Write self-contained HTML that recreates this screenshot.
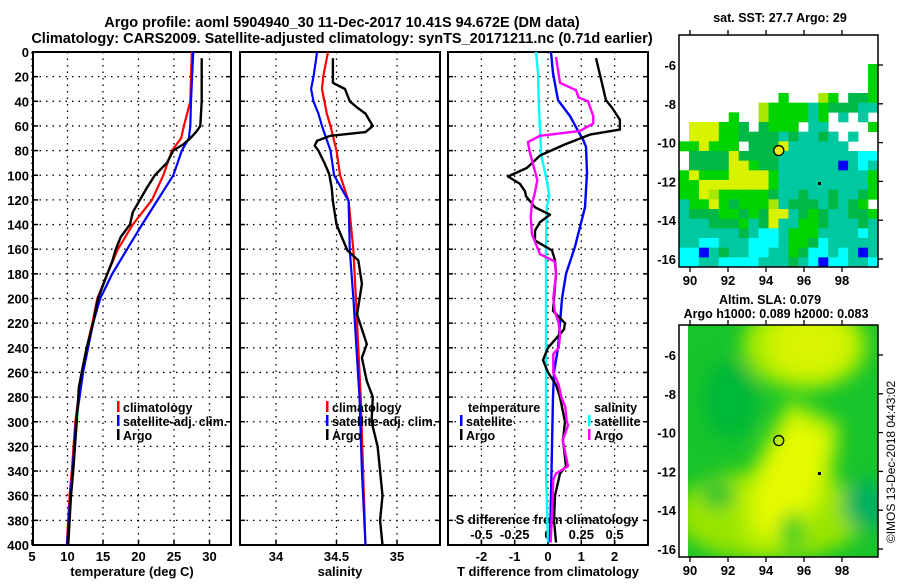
<!DOCTYPE html>
<html><head><meta charset="utf-8"><style>
body{margin:0;background:#fff}
svg text{font-family:"Liberation Sans",Arial,sans-serif;font-weight:bold;fill:#000}
</style></head><body>
<svg id="c" width="900" height="580" viewBox="0 0 900 580" xmlns="http://www.w3.org/2000/svg">
<defs><filter id="bl" x="-50%" y="-50%" width="200%" height="200%"><feGaussianBlur stdDeviation="9"/></filter>
<clipPath id="cm2"><rect x="688" y="325" width="190" height="232"/></clipPath></defs>
</svg>
<script>
// ---------- data ----------
const depthTicks=[0,20,40,60,80,100,120,140,160,180,200,220,240,260,280,300,320,340,360,380,400];
const tTicks=[5,10,15,20,25,30];
const sTicks=[34,34.5,35];
const sTickLabels=["34","34.5","35"];
const dTTicks=[-2,-1,0,1,2];
const dSTicks=[-0.5,-0.25,0,0.25,0.5];
const dSTickLabels=["-0.5","-0.25","0","0.25","0.5"];
// temperature panel
const argoTDepth=[5,20,40,60,65,70,75,80,90,100,110,120,130,140,150,160,170,180,200,220,240,260,272,300,340,360,400];
const argoT=[28.9,28.9,28.9,28.7,28.1,27.3,26.3,24.9,24.0,22.3,21.2,20.2,19.2,18.8,17.5,16.8,16.3,15.6,14.3,13.6,12.7,12.0,11.6,11.3,10.8,10.5,10.1];
const climTDepth=[0,40,60,70,80,100,120,140,160,180,200,220,240,260,300,340,360,400];
const climT=[27.5,27.3,26.4,26.0,24.7,23.5,21.9,19.2,17.1,15.6,14.2,13.5,12.7,12.0,11.1,10.6,10.3,9.9];
const satT=[27.7,27.4,27.3,27.1,26.1,24.9,22.7,20.5,18.4,16.3,14.6,13.6,12.9,12.2,11.2,10.7,10.4,9.95];
// salinity panel
const argoSDepth=[5,25,30,40,45,50,60,65,68,72,76,80,90,99,110,121,140,161,169,188,213,237,248,267,280,300,320,340,360,380,400];
const argoS=[34.47,34.47,34.57,34.61,34.67,34.74,34.80,34.74,34.45,34.34,34.32,34.35,34.40,34.44,34.46,34.47,34.50,34.59,34.68,34.71,34.67,34.75,34.71,34.75,34.80,34.79,34.84,34.86,34.88,34.86,34.88];
const climSDepth=[0,20,30,40,50,60,80,100,121,161,200,280,340,400];
const climS=[34.43,34.39,34.38,34.40,34.42,34.45,34.50,34.53,34.60,34.64,34.66,34.70,34.72,34.74];
const satS=[34.34,34.31,34.29,34.31,34.35,34.38,34.45,34.48,34.60,34.61,34.64,34.69,34.71,34.74];
// difference panel
const argoDTDepth=[5,25,39,45,55,63,67,75,84,94,101,107,113,117,126,132,138,145,153,161,169,180,190,200,210,220,225,240,250,260,270,280,300,315,336,342,360,380,398];
const argoDT=[1.44,1.62,1.74,1.92,2.16,2.16,1.26,0.51,-0.24,-0.63,-1.2,-0.84,-0.69,-0.66,-0.39,0.06,-0.24,-0.39,-0.39,0.12,0.21,0.24,0.21,0.18,0.15,0.51,0.48,0,-0.15,0,0.24,0.36,0.51,0.45,0.54,0.36,0.21,0.18,0.24];
const argoDSDepth=[4,25,31,37,40,52,58,64,68,73,80,96,104,115,123,134,148,164,170,180,200,210,220,230,240,245,260,270,280,288,299,303,315,336,342,347,374,398];
const argoDS=[0.06,0.09,0.21,0.23,0.30,0.34,0.34,0.24,-0.06,-0.15,-0.14,-0.10,-0.08,-0.10,-0.12,-0.13,-0.12,-0.06,0.05,0.06,0.04,0.05,0.08,0.09,0.08,0.04,0.04,0.08,0.10,0.13,0.14,0.15,0.11,0.15,0.06,0.04,0.03,0.02];
const satDTDepth=[0,17,39,52,64,71,77,98,126,142,158,180,200,220,240,260,280,320,360,398];
const satDT=[0.09,0.15,0.30,0.66,0.90,1.05,1.14,1.17,1.11,0.96,0.81,0.54,0.42,0.36,0.30,0.18,0.15,0.12,0.09,0.06];
const satDSDepth=[0,17,39,64,84,104,117,126,160,200,300,340,398];
const satDS=[-0.09,-0.075,-0.07,-0.06,-0.05,-0.01,0.01,-0.01,-0.015,-0.015,-0.015,-0.015,0];
// maps
const mapLons=[90,92,94,96,98];
const mapLats=[-6,-8,-10,-12,-14,-16];
const argoLon=94.672, argoLat=-10.41;
const sstRows=["....................","....................","....................","...................g","...................g","...................g","..........g...lg.ddg","........lggggtgdddtt",".....g..lggggtg.t.t.",".yyyggd.dggg.tt....g",".yyyggddddtdttdt.t..","ggyggg.dddytttttt...",".ddddyddddttttttttcc",".ddddyygddttttttbtct","gygggyyyygtttttttttg","ggyyyyyyygtttttttttg","ggylgggggdttdttdttdg","tggygdgggltdddtdtdg","tdddggdgdyytdgdttddg","tttdddgtdyttggdtttdt","ttttttdtcctgggttttct","ttcctttccctggdcttttt","ccbtdttccttgdcctctbt","ccttcccctttdtcbccttc"];
const sstColors={y:"#d8f200",l:"#a8e800",g:"#00d400",d:"#00b848",t:"#00c8a0",c:"#00ffff",b:"#0000ff"};

// ---------- helpers ----------
const svg=document.getElementById('c');
const NS="http://www.w3.org/2000/svg";
function el(tag,attrs,parent){const e=document.createElementNS(NS,tag);for(const k in attrs)e.setAttribute(k,attrs[k]);(parent||svg).appendChild(e);return e;}
function txt(x,y,s,size,anchor,parent){const t=el('text',{x:x,y:y,'font-size':size,'text-anchor':anchor||'middle'},parent);t.textContent=s;return t;}
const Y0=52,Y1=545;
function yD(d){return Y0+(d/400)*(Y1-Y0);}
function xT(v){return 32+(v-5)*7.1;}
function xS(v){return 276+(v-34)*121;}
function xDT(v){return 548+v*33.3;}
function xDS(v){return 548+v*133.2;}
function line(xs,ys,fx,color,w,name){
  let d='';for(let i=0;i<xs.length;i++){d+=(i?'L':'M')+fx(xs[i]).toFixed(1)+','+yD(ys[i]).toFixed(1);}
  const p=el('path',{d:d,fill:'none',stroke:color,'stroke-width':w,'stroke-linejoin':'round'});
  
  
  return p;
}
function panel(x0,x1,name,xGrid){
  const g=el('g',{});
  
  
  depthTicks.forEach(d=>{if(d>0&&d<400){el('line',{x1:x0,x2:x1,y1:yD(d),y2:yD(d),stroke:'#000','stroke-width':1.3,'stroke-dasharray':'1.5,5'},g);
    el('line',{x1:x0,x2:x0+5,y1:yD(d),y2:yD(d),stroke:'#000','stroke-width':1.5},g);el('line',{x1:x1-5,x2:x1,y1:yD(d),y2:yD(d),stroke:'#000','stroke-width':1.5},g);}});
  xGrid.forEach(x=>{el('line',{x1:x,x2:x,y1:Y0,y2:Y1,stroke:'#000','stroke-width':1.3,'stroke-dasharray':'1.5,5'},g);
    el('line',{x1:x,x2:x,y1:Y1-5,y2:Y1,stroke:'#000','stroke-width':1.5},g);});
  el('rect',{x:x0,y:Y0,width:x1-x0,height:Y1-Y0,fill:'none',stroke:'#000','stroke-width':2},g);
  return g;
}
// titles
let t=txt(342,27,"Argo profile: aoml 5904940_30 11-Dec-2017 10.41S 94.672E (DM data)",14.5);

t=txt(342,43,"Climatology: CARS2009. Satellite-adjusted climatology: synTS_20171211.nc (0.71d earlier)",14.5);


// panels
panel(33,231,'temperature-panel',tTicks.map(xT));
panel(240,440,'salinity-panel',sTicks.map(xS));
panel(448,648,'difference-panel',dTTicks.map(xDT));
depthTicks.forEach(d=>{const l=txt(29,yD(d)+5,String(d),13,'end');});
tTicks.forEach(v=>{const l=txt(xT(v),561,String(v),13);});
sTicks.forEach((v,i)=>{const l=txt(xS(v),561,sTickLabels[i],13);});
dTTicks.forEach(v=>{const l=txt(xDT(v),561,String(v),13);});
dSTicks.forEach((v,i)=>{const l=txt(xDS(v),539,dSTickLabels[i],13);
  el('line',{x1:xDS(v),x2:xDS(v),y1:Y1-5,y2:Y1,stroke:'#000','stroke-width':1.5});});
t=txt(547,524,"S difference from climatology",13);
t=txt(132,576,"temperature (deg C)",13);
t=txt(340,576,"salinity",13);
t=txt(548,576,"T difference from climatology",13);

// series
line(climT,climTDepth,xT,'#ff0000',2.2,'climatology-temperature-line');
line(satT,climTDepth,xT,'#0000ff',2.2,'satellite-temperature-line');
line(argoT,argoTDepth,xT,'#000',2.4,'argo-temperature-line');
line(climS,climSDepth,xS,'#ff0000',2.2,'climatology-salinity-line');
line(satS,climSDepth,xS,'#0000ff',2.2,'satellite-salinity-line');
line(argoS,argoSDepth,xS,'#000',2.4,'argo-salinity-line');
line(satDS,satDSDepth,xDS,'#00ffff',2.4,'satellite-s-diff-line');
line(satDT,satDTDepth,xDT,'#0000ff',2.4,'satellite-t-diff-line');
line(argoDT,argoDTDepth,xDT,'#000',2.4,'argo-t-diff-line');
line(argoDS,argoDSDepth,xDS,'#ff00ff',2.4,'argo-s-diff-line');

// legends
function legItem(x,y,color,label,name){
  const g=el('g',{});
  
  
  if(color) el('rect',{x:x,y:y-11,width:2.5,height:11,fill:color},g);
  txt(x+(color?6:0),y,label,12.5,'start',g);
}
legItem(117,412,'#ff0000','climatology','legend-climatology');
legItem(117,426,'#0000ff','satellite-adj. clim.','legend-satellite-adj');
legItem(117,440,'#000','Argo','legend-argo');
legItem(326,412,'#ff0000','climatology','legend-climatology-2');
legItem(326,426,'#0000ff','satellite-adj. clim.','legend-satellite-adj-2');
legItem(326,440,'#000','Argo','legend-argo-2');
legItem(468,412,null,'temperature','legend-temperature-header');
legItem(460,426,'#0000ff','satellite','legend-t-satellite');
legItem(460,440,'#000','Argo','legend-t-argo');
legItem(594,412,null,'salinity','legend-salinity-header');
legItem(588,426,'#00ffff','satellite','legend-s-satellite');
legItem(588,440,'#ff00ff','Argo','legend-s-argo');

// ---------- maps ----------
function lonX(l){return 690+(l-90)*19;}
function latY(top,l){return top+(-6-l)*19.4;}
function mapAxes(top,bottom,name){
  const g=el('g',{});
  
  
  const ytop=top-30;
  el('rect',{x:679,y:ytop,width:199,height:bottom-ytop,fill:'none',stroke:'#000','stroke-width':1.5},g);
  mapLons.forEach(l=>{const x=lonX(l);el('line',{x1:x,x2:x,y1:bottom,y2:bottom+5,stroke:'#000','stroke-width':1.3},g);el('line',{x1:x,x2:x,y1:ytop-5,y2:ytop,stroke:'#000','stroke-width':1.3},g);txt(x,bottom+18,String(l),13,'middle',g);});
  mapLats.forEach(l=>{const y=latY(top,l);el('line',{x1:878,x2:883,y1:y,y2:y,stroke:'#000','stroke-width':1.3},g);txt(676,y+5,String(l),13,'end',g);});
}
const gSST=el('g',{});


const cw=199/20, ch=232/24;
sstRows.forEach((row,r)=>{for(let c=0;c<row.length;c++){const k=row[c];if(sstColors[k]){
  const rc=el('rect',{x:(679+c*cw).toFixed(2),y:(35+r*ch).toFixed(2),width:(cw+0.3).toFixed(2),height:(ch+0.3).toFixed(2),fill:sstColors[k]},gSST);
  
  }}});
mapAxes(65,267,'sst-map-axes');
let ci=el('circle',{cx:lonX(argoLon),cy:latY(65,argoLat),r:5,fill:'#e8f000',stroke:'#000','stroke-width':1.3});

el('rect',{x:818,y:182,width:3,height:3,fill:'#000'});
t=txt(780,22,"sat. SST: 27.7 Argo: 29",12.5);

const gS=el('g',{'clip-path':'url(#cm2)'});


el('rect',{x:688,y:325,width:190,height:232,fill:'#18c42a'},gS);
const bg=el('g',{filter:'url(#bl)'},gS);
el('ellipse',{cx:805,cy:345,rx:62,ry:45,fill:'#a8ec00'},bg);
el('ellipse',{cx:810,cy:345,rx:42,ry:32,fill:'#d8f400'},bg);
el('ellipse',{cx:770,cy:515,rx:95,ry:45,fill:'#98e400'},bg);
el('path',{d:'M790,400 L840,425 L830,495 L795,550 L750,550 L735,505 L765,445 Z',fill:'#b8f000'},bg);
el('path',{d:'M795,418 L828,438 L815,495 L788,535 L760,535 L752,500 L772,455 Z',fill:'#e6fa00'},bg);
el('ellipse',{cx:718,cy:495,rx:16,ry:13,fill:'#10c030'},bg);
el('ellipse',{cx:792,cy:532,rx:12,ry:20,fill:'#30cc20'},bg);
el('ellipse',{cx:868,cy:505,rx:25,ry:25,fill:'#00b060'},bg);
el('ellipse',{cx:730,cy:400,rx:28,ry:40,fill:'#00b838'},bg);
el('rect',{x:679,y:325,width:9,height:232,fill:'#fff'});
mapAxes(355,557,'sla-map-axes');
ci=el('circle',{cx:lonX(argoLon),cy:latY(355,argoLat),r:5,fill:'none',stroke:'#000','stroke-width':1.3});

el('rect',{x:818,y:472,width:3,height:3,fill:'#000'});
t=txt(770,304,"Altim. SLA: 0.079",12.5);
t=txt(776,318,"Argo h1000: 0.089 h2000: 0.083",12.5);
t=el('text',{x:0,y:0,'font-size':12,'text-anchor':'middle',transform:'translate(895,462) rotate(-90)',style:'font-weight:normal'});
t.textContent="©IMOS 13-Dec-2018 04:43:02";

</script>
</body></html>
